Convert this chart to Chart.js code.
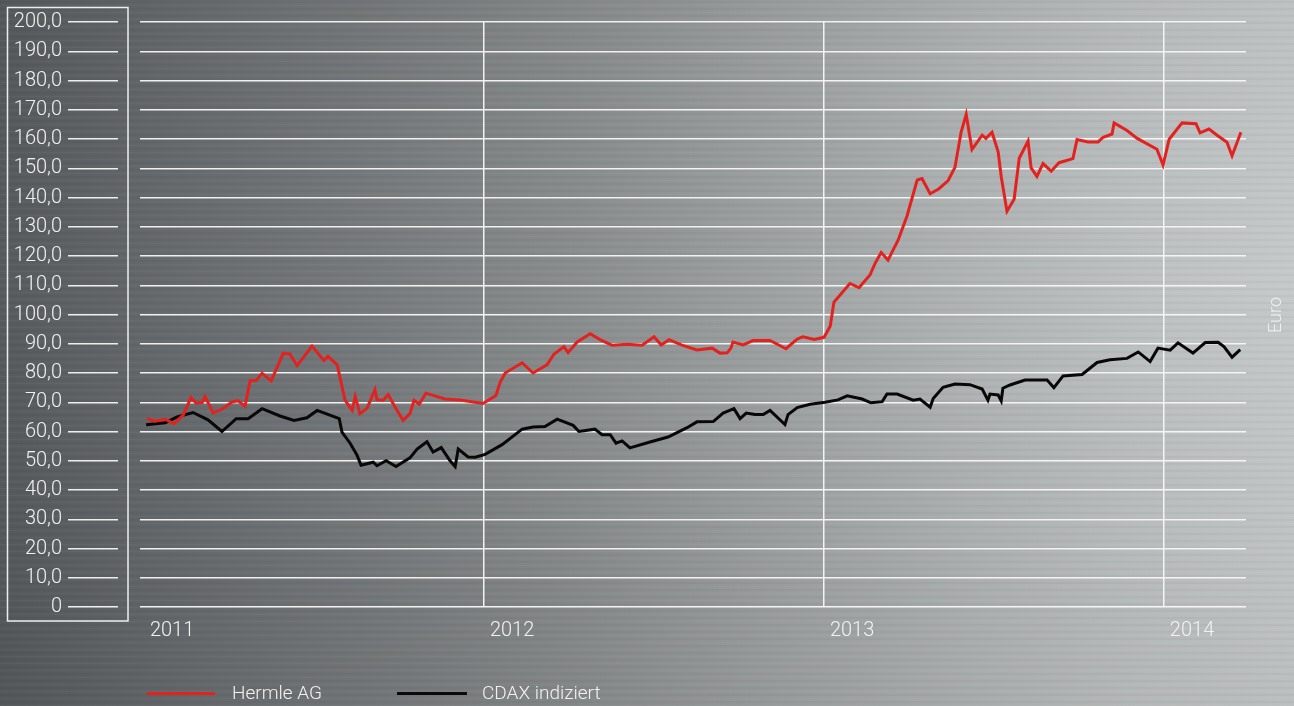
<!DOCTYPE html>
<html>
<head>
<meta charset="utf-8">
<script src="https://cdn.jsdelivr.net/npm/chart.js@4.4.1/dist/chart.umd.min.js"></script>
<style>
  html, body { margin: 0; padding: 0; overflow: hidden; }
  #wrap {
    position: relative; width: 1294px; height: 706px;
    background:
      repeating-linear-gradient(0deg, rgba(255,255,255,0.035) 0px, rgba(255,255,255,0.035) 1px, rgba(0,0,0,0) 1px, rgba(0,0,0,0) 3px, rgba(0,0,0,0.03) 3px, rgba(0,0,0,0.03) 5px, rgba(0,0,0,0) 5px, rgba(0,0,0,0) 7px),
      linear-gradient(180deg, rgba(0,0,0,0.04) 0%, rgba(0,0,0,0) 40%, rgba(0,0,0,0.05) 100%),
      linear-gradient(90deg, #575b5e 0%, #65696c 12%, #777a7c 28%, #8b8e8f 45%, #9fa2a3 60%, #b1b4b4 75%, #bec1c1 88%, #c6c9c9 100%);
    font-family: Roboto, "Open Sans", sans-serif;
  }
  canvas { position: absolute; left: 0; top: 0; }
  .leg-line { position: absolute; height: 3px; top: 692px; }
  .leg-text { position: absolute; top: 681px; font-size: 19px; line-height: 24px; font-weight: 300; color: #f2f2f2; white-space: nowrap; }
  #euro { position: absolute; left: 1256px; top: 304px; width: 38px; text-align: center; font-size: 18px; line-height: 22px; font-weight: 300; color: #eef0f0; transform: rotate(-90deg); transform-origin: 50% 50%; }
</style>
</head>
<body>
<div id="wrap">
  <canvas id="c" width="1294" height="706"></canvas>
  <div class="leg-line" style="left:147px; width:68px; background:#e3221f;"></div>
  <div class="leg-text" style="left:232px;">Hermle AG</div>
  <div class="leg-line" style="left:397px; width:70px; background:#0a0a0a;"></div>
  <div class="leg-text" style="left:482px;">CDAX indiziert</div>
  <div id="euro">Euro</div>
</div>
<script>
// ---- data (x = decimal year) ----
const hermleX = [2011.009,2011.032,2011.062,2011.088,2011.115,2011.138,2011.153,2011.171,2011.179,2011.203,2011.229,2011.259,2011.276,2011.297,2011.312,2011.329,2011.347,2011.374,2011.409,2011.429,2011.450,2011.494,2011.529,2011.541,2011.568,2011.591,2011.612,2011.621,2011.635,2011.656,2011.679,2011.685,2011.703,2011.718,2011.738,2011.762,2011.782,2011.794,2011.809,2011.829,2011.885,2011.929,2011.997,
  2012.035,2012.047,2012.062,2012.112,2012.144,2012.185,2012.206,2012.235,2012.247,2012.274,2012.312,2012.341,2012.376,2012.421,2012.465,2012.500,2012.521,2012.544,2012.582,2012.626,2012.671,2012.694,2012.715,2012.726,2012.732,2012.762,2012.791,2012.841,2012.888,2012.921,2012.938,2012.971,
  2013.000,2013.018,2013.029,2013.076,2013.103,2013.135,2013.150,2013.168,2013.188,2013.218,2013.244,2013.274,2013.288,2013.312,2013.338,2013.365,2013.385,2013.403,2013.418,2013.435,2013.465,2013.476,2013.494,2013.512,2013.521,2013.538,2013.559,2013.574,2013.600,2013.609,2013.626,2013.644,2013.668,2013.691,2013.732,2013.744,2013.776,2013.806,2013.821,2013.847,2013.853,2013.891,2013.921,2013.979,2013.997,
  2014.015,2014.053,2014.094,2014.106,2014.132,2014.156,2014.185,2014.200,2014.226];
const hermleY = [64.4,63.5,64.2,62.7,65.6,71.6,69.7,69.9,72.0,66.4,67.6,70.1,70.5,68.7,77.4,77.4,79.9,77.3,86.7,86.5,82.5,89.2,84.3,85.7,82.8,70.7,67.2,72.0,66.1,68.0,74.3,70.9,70.7,72.6,68.4,63.8,66.1,70.7,69.3,73.1,71.1,70.8,69.6,
  72.3,76.7,80.0,83.5,80.0,82.8,86.5,89.0,87.0,90.6,93.4,91.4,89.5,89.8,89.5,92.4,89.6,91.4,89.5,87.9,88.5,86.8,86.9,88.5,90.6,89.6,91.1,91.1,88.3,91.6,92.4,91.5,
  92.2,96.0,104.2,110.6,109.2,113.5,117.5,121.2,118.6,125.5,133.7,146.0,146.5,141.3,143.0,145.8,150.3,162.3,168.4,156.4,161.3,160.2,162.3,155.6,147.2,135.3,139.4,153.4,159.3,150.1,147.2,151.6,149.0,151.9,153.3,159.8,159.0,159.0,160.6,161.7,165.5,162.9,160.2,156.5,151.1,
  159.9,165.5,165.2,162.1,163.4,161.3,158.9,154.3,162.3];

const cdaxX = [2011.006,2011.062,2011.097,2011.144,2011.188,2011.229,2011.271,2011.306,2011.347,2011.400,2011.441,2011.479,2011.509,2011.574,2011.582,2011.606,2011.626,2011.638,2011.674,2011.685,2011.712,2011.741,2011.782,2011.803,2011.832,2011.850,2011.874,2011.900,2011.915,2011.924,2011.953,2011.974,
  2012.003,2012.053,2012.112,2012.144,2012.179,2012.215,2012.262,2012.279,2012.326,2012.347,2012.371,2012.388,2012.406,2012.429,2012.488,2012.541,2012.597,2012.626,2012.674,2012.703,2012.735,2012.753,2012.771,2012.797,2012.821,2012.841,2012.885,2012.894,2012.921,2012.959,
  2013.003,2013.041,2013.068,2013.112,2013.138,2013.171,2013.185,2013.215,2013.262,2013.282,2013.312,2013.321,2013.350,2013.385,2013.429,2013.465,2013.482,2013.488,2013.512,2013.521,2013.526,2013.547,2013.591,2013.656,2013.676,2013.703,2013.759,2013.803,2013.841,2013.891,2013.924,2013.959,2013.982,
  2014.018,2014.041,2014.085,2014.121,2014.159,2014.176,2014.200,2014.224];
const cdaxY = [62.3,63.0,65.0,66.5,64.0,60.0,64.4,64.4,67.8,65.3,63.8,64.7,67.2,64.4,59.8,56.0,52.0,48.5,49.5,48.3,50.0,48.0,51.0,54.0,56.5,53.0,54.5,50.0,48.0,54.0,51.3,51.2,
  52.2,55.5,60.8,61.5,61.7,64.2,62.1,60.0,60.8,58.9,58.9,56.0,56.8,54.4,56.4,58.1,61.3,63.3,63.4,66.3,67.8,64.4,66.3,65.8,65.8,67.2,62.4,65.8,68.2,69.3,
  70.0,70.8,72.2,71.1,69.8,70.2,72.8,72.8,70.7,71.1,68.3,71.3,75.1,76.2,76.0,74.5,70.7,72.8,72.5,70.5,74.8,75.9,77.6,77.6,75.0,79.0,79.5,83.6,84.5,85.0,87.2,83.9,88.5,
  87.8,90.3,86.8,90.4,90.5,89.0,85.4,88.0];

const yearTicks = [2011, 2012, 2013, 2014];
const seriesNames = ['Hermle AG', 'CDAX indiziert'];

const toPoints = (xs, ys) => xs.map((x, i) => ({ x: x, y: ys[i] }));

const boxPlugin = {
  id: 'labelBox',
  beforeDraw(chart) {
    const ctx = chart.ctx;
    ctx.save();
    ctx.strokeStyle = 'rgba(245,245,245,0.95)';
    ctx.lineWidth = 1.5;
    ctx.strokeRect(7.5, 7.5, 120.5, 613.5);
    ctx.restore();
  }
};

const FONT = { family: 'Roboto, "Open Sans", sans-serif', size: 20, weight: 300 };

new Chart(document.getElementById('c'), {
  type: 'line',
  data: {
    datasets: [
      { label: seriesNames[0], data: toPoints(hermleX, hermleY), borderColor: '#e3221f', borderWidth: 3, pointRadius: 0, tension: 0, fill: false },
      { label: seriesNames[1], data: toPoints(cdaxX, cdaxY), borderColor: '#080808', borderWidth: 3, pointRadius: 0, tension: 0, fill: false }
    ]
  },
  options: {
    responsive: false,
    animation: false,
    devicePixelRatio: 1,
    layout: { padding: { left: 0, right: 48, top: 22, bottom: 0 } },
    plugins: { legend: { display: false }, tooltip: { enabled: false } },
    scales: {
      x: {
        type: 'linear',
        min: 2010.988,
        max: 2014.241,
        afterBuildTicks(scale) { scale.ticks = yearTicks.map(v => ({ value: v })); },
        afterFit(scale) { scale.height = 99; },
        ticks: {
          autoSkip: false, maxRotation: 0, labelOffset: 28, padding: 12,
          color: '#f2f2f2', font: FONT,
          callback: v => String(v)
        },
        grid: {
          drawTicks: false,
          lineWidth: 1.5,
          color: c => (c.tick && c.tick.value === 2011) ? 'rgba(0,0,0,0)' : 'rgba(248,248,248,0.95)'
        },
        border: { display: false }
      },
      y: {
        min: 0, max: 200,
        afterFit(scale) { scale.width = 140; },
        ticks: {
          stepSize: 10, autoSkip: false, padding: 6,
          color: '#f2f2f2', font: FONT,
          callback: v => v === 0 ? '0' : v.toFixed(1).replace('.', ',')
        },
        grid: {
          color: 'rgba(248,248,248,0.95)',
          lineWidth: 1.5,
          drawTicks: true,
          tickLength: 72,
          tickWidth: 1.5,
          tickColor: 'rgba(245,245,245,0.95)',
          tickBorderDash: [50, 200]
        },
        border: { display: false }
      }
    }
  },
  plugins: [boxPlugin]
});
</script>
</body>
</html>
